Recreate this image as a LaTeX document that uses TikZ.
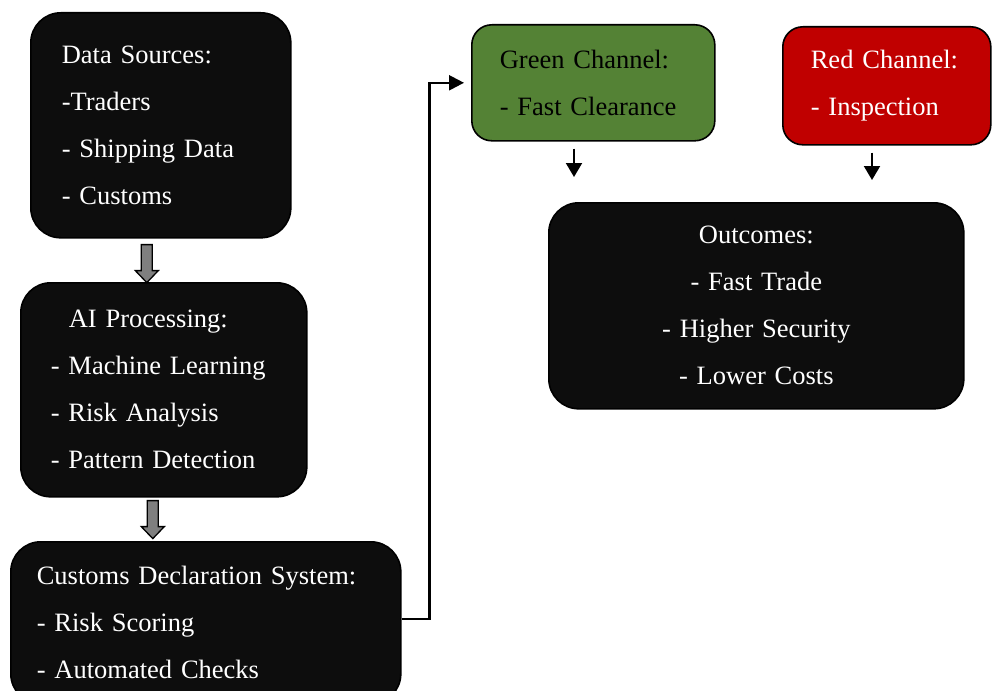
\documentclass[tikz,border=0pt]{standalone}
\usepackage{fontspec}
\setmainfont{Liberation Serif}
\usetikzlibrary{arrows.meta,positioning,calc}
\definecolor{boxblack}{RGB}{13,13,13}
\definecolor{chgreen}{RGB}{84,130,53}
\definecolor{chred}{RGB}{192,0,0}
\definecolor{arrgray}{RGB}{127,127,127}
\tikzset{
  blockarrow/.pic={
    \draw[fill=arrgray, line width=1.3pt, line join=miter]
      (-5.5,0) -- (-5.5,26) -- (-11.5,26) -- (0,38) -- (11.5,26) -- (5.5,26) -- (5.5,0) -- cycle;
  }
}

\begin{document}
\begin{tikzpicture}[x=1pt, y=-1pt,
  box/.style={draw=black, line width=1.6pt, fill=boxblack, text=white,
    rounded corners=30pt, anchor=north west, align=left,
    font=\fontsize{26.5}{47}\selectfont},
  chan/.style={box, rounded corners=20pt},
  elbow/.style={line width=2.3pt, -{Triangle[length=15pt,width=15pt]}, shorten >=7pt},
  downarrow/.style={line width=2pt, -{Triangle[length=14pt,width=16pt]}}]
\useasboundingbox (0,0) rectangle (992,690);
\clip (0,0) rectangle (992,690);
% Left column
\node[box, minimum width=260pt, minimum height=225pt, inner xsep=31pt, text width=198pt]
  (ds) at (30,12) {Data Sources:\\-Traders\\- Shipping Data\\- Customs};
\node[box, minimum width=286pt, minimum height=214pt, inner xsep=30pt, text width=226pt]
  (ai) at (20,282) {\hspace*{18pt}AI Processing:\\- Machine Learning\\- Risk Analysis\\- Pattern Detection};
\node[box, minimum width=390pt, minimum height=162pt, inner xsep=26pt, text width=338pt]
  (cds) at (10,541) {Customs Declaration System:\\- Risk Scoring\\- Automated Checks};
% Block arrows between the left boxes
\path (ds.south) ++(-14,6) pic {blockarrow};
\path (ai.south) ++(-11,3) pic {blockarrow};
% Channels
\node[chan, fill=chgreen, text=black, minimum width=243pt, minimum height=116pt,
  inner xsep=28pt, text width=187pt] (green) at (471,24) {Green Channel:\\- Fast Clearance};
\node[chan, fill=chred, minimum width=208pt, minimum height=118pt,
  inner xsep=28pt, text width=152pt] (red) at (782,26) {Red Channel:\\- Inspection};
% Outcomes
\node[box, align=center, minimum width=415pt, minimum height=206pt, text width=355pt]
  (out) at (548,202) {Outcomes:\\- Fast Trade\\- Higher Security\\- Lower Costs};
% Connectors
\draw[elbow] ([yshift=4pt]cds.east) -- ++(28,0) |- (green.west);
\coordinate (gx) at (574,0);
\coordinate (rx) at (872,0);
\draw[downarrow, shorten <=7pt, shorten >=25pt] (green.south -| gx) -- (out.north -| gx);
\draw[downarrow, shorten <=7pt, shorten >=22pt] (red.south -| rx) -- (out.north -| rx);
\end{tikzpicture}
\end{document}
